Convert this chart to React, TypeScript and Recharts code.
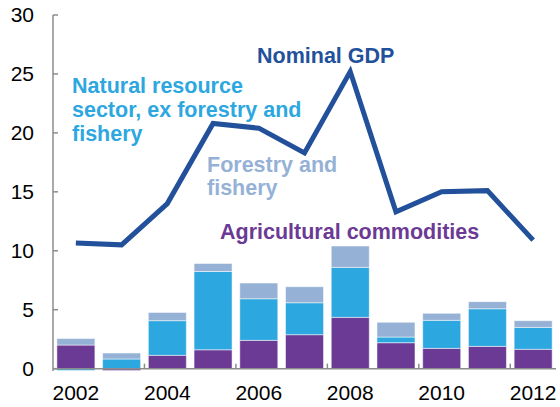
import { ComposedChart, Bar, Line, XAxis, YAxis, ReferenceLine } from 'recharts'

const years = ['2002', '2003', '2004', '2005', '2006', '2007', '2008', '2009', '2010', '2011', '2012']
const agricultural = [2.0, -0.15, 1.13, 1.6, 2.4, 2.88, 4.35, 2.2, 1.72, 1.89, 1.64]
const naturalResource = [-0.15, 0.82, 2.94, 6.64, 3.53, 2.71, 4.24, 0.48, 2.38, 3.19, 1.86]
const forestry = [0.55, 0.5, 0.7, 0.68, 1.33, 1.36, 1.81, 1.25, 0.59, 0.6, 0.57]
const nominalGdp = [10.65, 10.5, 14.0, 20.8, 20.4, 18.3, 25.2, 13.3, 15.0, 15.1, 10.9]
const yTicks = [0, 5, 10, 15, 20, 25, 30]

const data = years.map((year, i) => ({
    year,
    agricultural: agricultural[i],
    naturalResource: naturalResource[i],
    forestry: forestry[i],
    gdp: nominalGdp[i],
}))

const W = 560
const H = 407
const TOP = 15
const XAXIS_H = 36
const Y_MIN = -0.2
const Y_MAX = 30
const zeroShift = (-Y_MIN * (H - TOP - XAXIS_H)) / (Y_MAX - Y_MIN)

const FONT = '"Liberation Sans", Arial, sans-serif'
const AXIS_GREY = '#8c8c8c'
const C_AGRI = '#6b3a94'
const C_NAT = '#2ca7df'
const C_FOR = '#95b1d6'
const C_GDP = '#23509a'

const YearTick = (props: any) => {
    const { x, y, payload, index } = props
    const half = payload?.offset ?? 22.8
    const axisY = y - zeroShift
    return (
        <g>
            {index % 2 === 0 && index > 0 && (
                <line x1={x - half} x2={x - half} y1={axisY - 5} y2={axisY} stroke={AXIS_GREY} strokeWidth={1.5} />
            )}
            {index % 2 === 0 && (
                <text x={x} y={y} dy={29} textAnchor="middle" fontSize={21} fontFamily={FONT} fill="#000">
                    {payload.value}
                </text>
            )}
        </g>
    )
}

const labelStyle = { fontFamily: FONT, fontWeight: 700, fontSize: 21.5 }

export default function App() {
    return (
        <div style={{ position: 'absolute', left: 0, top: 0, width: W, height: H, background: '#fff' }}>
            <ComposedChart
                width={W}
                height={H}
                data={data}
                stackOffset="sign"
                barCategoryGap="8.5%"
                margin={{ top: TOP, right: 4, left: 0, bottom: 0 }}
            >
                <XAxis
                    dataKey="year"
                    height={XAXIS_H}
                    interval={0}
                    axisLine={false}
                    tickLine={false}
                    tickSize={0}
                    tickMargin={0}
                    tick={<YearTick />}
                />
                <YAxis
                    width={53}
                    domain={[Y_MIN, Y_MAX]}
                    ticks={yTicks}
                    allowDataOverflow
                    axisLine={{ stroke: AXIS_GREY, strokeWidth: 1.5 }}
                    tickLine={{ stroke: AXIS_GREY, strokeWidth: 1.5 }}
                    tickSize={-5}
                    tickMargin={24}
                    tick={{ fill: '#000', fontSize: 21, fontFamily: FONT }}
                />
                <Bar dataKey="agricultural" stackId="a" fill={C_AGRI} stroke="#fff" strokeWidth={0.5} isAnimationActive={false} />
                <Bar dataKey="naturalResource" stackId="a" fill={C_NAT} stroke="#fff" strokeWidth={0.5} isAnimationActive={false} />
                <Bar dataKey="forestry" stackId="a" fill={C_FOR} stroke="#fff" strokeWidth={0.5} isAnimationActive={false} />
                <ReferenceLine y={0} stroke={AXIS_GREY} strokeWidth={1.5} ifOverflow="extendDomain" />
                <Line
                    type="linear"
                    dataKey="gdp"
                    stroke={C_GDP}
                    strokeWidth={5}
                    dot={false}
                    activeDot={false}
                    isAnimationActive={false}
                />
            </ComposedChart>
            <svg width={W} height={H} style={{ position: 'absolute', left: 0, top: 0, pointerEvents: 'none' }}>
                <text x={257} y={63} fill={C_GDP} style={labelStyle}>Nominal GDP</text>
                <text x={72} y={93} fill={C_NAT} style={labelStyle}>Natural resource</text>
                <text x={72} y={117} fill={C_NAT} style={labelStyle}>sector, ex forestry and</text>
                <text x={72} y={141} fill={C_NAT} style={labelStyle}>fishery</text>
                <text x={207} y={172} fill={C_FOR} style={labelStyle}>Forestry and</text>
                <text x={207} y={195} fill={C_FOR} style={labelStyle}>fishery</text>
                <text x={220} y={239} fill={C_AGRI} style={labelStyle}>Agricultural commodities</text>
            </svg>
        </div>
    )
}
